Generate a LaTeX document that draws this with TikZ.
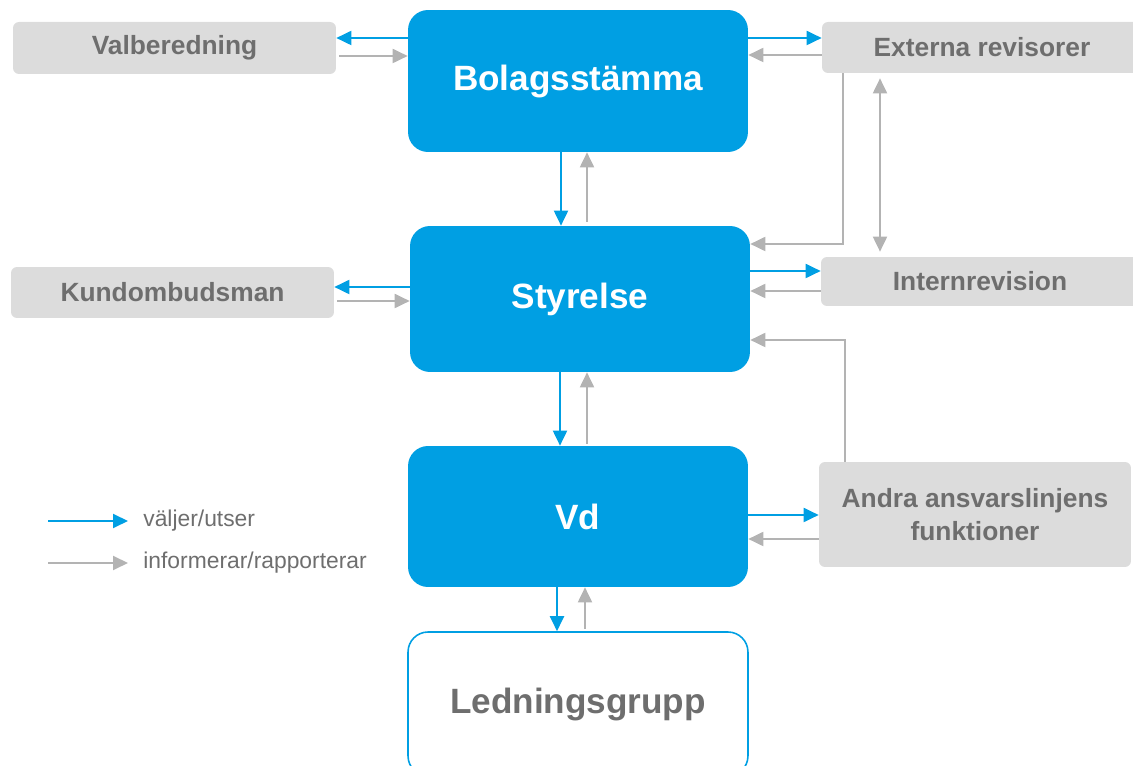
\documentclass[tikz,border=0pt]{standalone}
\usepackage{fontspec}
\setmainfont{Liberation Sans}
\usetikzlibrary{arrows.meta}
\usetikzlibrary{calc}

\definecolor{govblue}{HTML}{009FE3}
\definecolor{boxgray}{HTML}{DCDCDC}
\definecolor{textgray}{HTML}{6E6E6E}
\definecolor{linegray}{HTML}{B3B3B3}

\tikzset{
  mainbox/.style={rectangle,rounded corners=0.4cm,fill=govblue,text=white,
    font=\fontsize{20}{24}\selectfont\bfseries,minimum width=6.8cm,inner sep=0pt},
  sidebox/.style={rectangle,rounded corners=0.12cm,fill=boxgray,text=textgray,
    font=\fontsize{15}{19}\selectfont\bfseries,align=center,inner sep=0pt},
  legtext/.style={text=textgray,font=\fontsize{13}{15}\selectfont,inner sep=0pt,anchor=west},
  choose/.style={draw=govblue,line width=1.1pt,-{Triangle[length=0.3cm,width=0.28cm]}},
  inform/.style={draw=linegray,line width=1.1pt,-{Triangle[length=0.3cm,width=0.28cm]}}
}

\begin{document}
\begin{tikzpicture}
    [x=0.02cm,y=-0.02cm]
    \clip (0,0) rectangle (1133,766);
    % main column
    \node [mainbox,minimum height=2.84cm] (bolag) at (578,81) {\raisebox{-0.1cm}{Bolagsstämma}};
    \node [mainbox,minimum height=2.92cm] (styrelse) at (580,299) {\raisebox{-0.06cm}{Styrelse}};
    \node [mainbox,minimum height=2.82cm] (vd) at (578,516.5) {Vd};
    \node [mainbox,minimum height=2.88cm,fill=white,draw=govblue,line width=0.9pt,text=textgray] (ledning) at (578,704) {Ledningsgrupp};
    % side boxes
    \node [sidebox,minimum width=6.46cm,minimum height=1.04cm] (valb) at (174.5,48) {\raisebox{-0.06cm}{Valberedning}};
    \node [sidebox,minimum width=6.4cm,minimum height=1.02cm] (extrev) at (982,47.5) {Externa revisorer};
    \node [sidebox,minimum width=6.46cm,minimum height=1.02cm] (kundomb) at (172.5,292.5) {Kundombudsman};
    \node [sidebox,minimum width=6.36cm,minimum height=0.98cm] (internrev) at (980,281.5) {Internrevision};
    \node [sidebox,minimum width=6.24cm,minimum height=2.1cm] (andra) at (975,514.5) {Andra ansvarslinjens\\funktioner};
    % Bolagsstämma
    \draw[choose] (bolag.west |- 0,38) -- (valb.east |- 0,38);
    \draw[inform] ([xshift=0.06cm]valb.east |- 0,56) -- (bolag.west |- 0,56);
    \draw[choose] (bolag.east |- 0,38) -- (extrev.west |- 0,38);
    \draw[inform] (extrev.west |- 0,55) -- (bolag.east |- 0,55);
    \draw[choose] (bolag.south -| 561,0) -- (styrelse.north -| 561,0);
    \draw[inform] ([yshift=0.08cm]styrelse.north -| 587,0) -- (bolag.south -| 587,0);
    % Styrelse
    \draw[inform] (extrev.south -| 843,0) |- (styrelse.east |- 0,244);
    \draw[inform,{Triangle[length=0.3cm,width=0.28cm]}-{Triangle[length=0.3cm,width=0.28cm]},shorten <=0.1cm,shorten >=0.1cm] (extrev.south -| 880,0) -- (internrev.north -| 880,0);
    \draw[choose] (styrelse.east |- 0,271) -- (internrev.west |- 0,271);
    \draw[inform] (internrev.west |- 0,291) -- (styrelse.east |- 0,291);
    \draw[choose] (styrelse.west |- 0,287) -- (kundomb.east |- 0,287);
    \draw[inform] ([xshift=0.06cm]kundomb.east |- 0,301) -- (styrelse.west |- 0,301);
    \draw[inform] (andra.north -| 845,0) |- (styrelse.east |- 0,340);
    \draw[choose] (styrelse.south -| 560,0) -- (vd.north -| 560,0);
    \draw[inform] ([yshift=0.04cm]vd.north -| 587,0) -- (styrelse.south -| 587,0);
    % Vd
    \draw[choose] (vd.east |- 0,515) -- (andra.west |- 0,515);
    \draw[inform] (andra.west |- 0,539) -- (vd.east |- 0,539);
    \draw[choose] (vd.south -| 557,0) -- (ledning.north -| 557,0);
    \draw[inform] ([yshift=0.04cm]ledning.north -| 585,0) -- (vd.south -| 585,0);
    % legend
    \node [legtext] (legchoose) at (143,521) {väljer/utser};
    \node [legtext] (leginform) at (143,563) {informerar/rapporterar};
    \coordinate (legchoosestart) at (48,521);
    \coordinate (leginformstart) at (48,563);
    \draw[choose] (legchoosestart) -- ([xshift=-0.3cm]legchoose.west);
    \draw[inform] (leginformstart) -- ([xshift=-0.3cm]leginform.west);
\end{tikzpicture}
\end{document}
